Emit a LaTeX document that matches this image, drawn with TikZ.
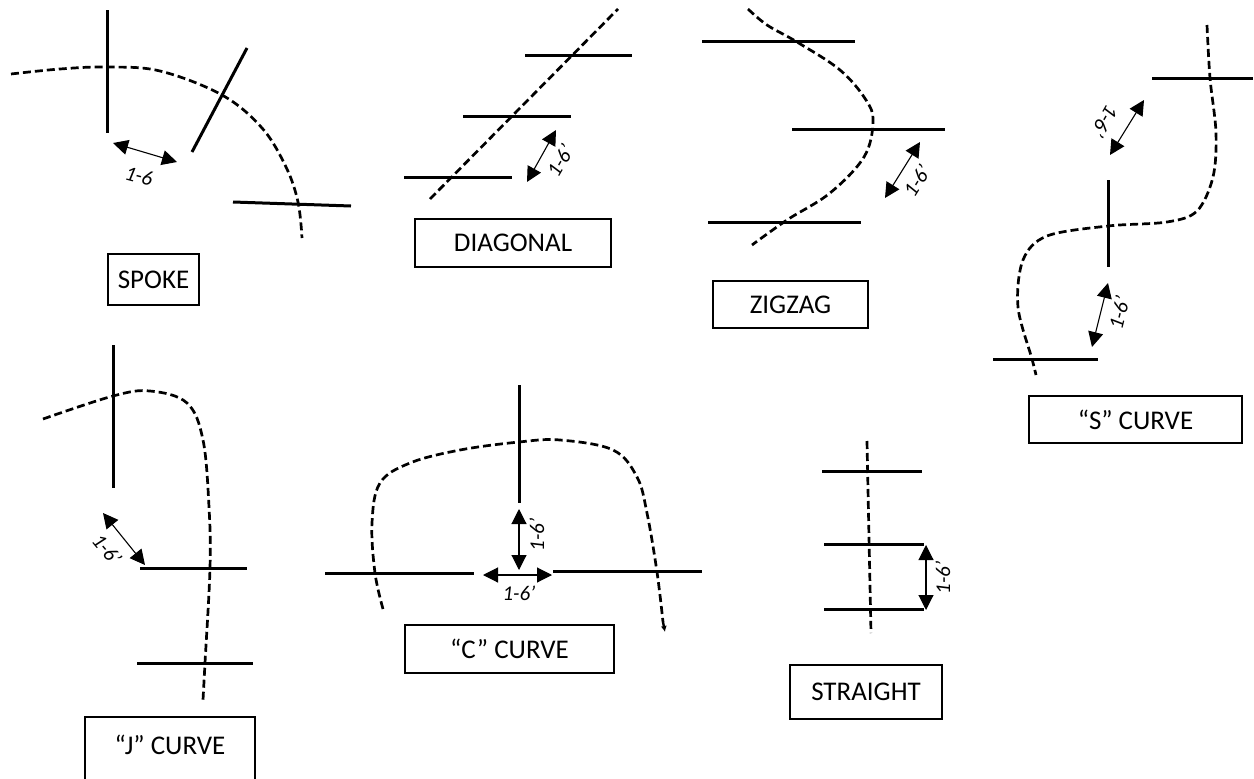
\documentclass[tikz,border=0pt]{standalone}
\usepackage{fontspec}
\setmainfont{Carlito}
\usetikzlibrary{arrows.meta}
\tikzset{
  barline/.style={line width=3pt},
  pathline/.style={line width=2.7pt, dash pattern=on 8pt off 4pt},
  dimarrow/.style={line width=1.1pt, {Triangle[length=15pt,width=15pt]}-{Triangle[length=15pt,width=15pt]}},
  dimlabel/.style={font=\fontsize{21}{24}\selectfont\itshape, inner sep=0pt},
  labelbox/.style={draw, line width=1.4pt, font=\fontsize{27}{30}\selectfont, inner sep=0pt},
  frame/.style={draw, line width=1.4pt, inner sep=0pt},
}
\begin{document}
\begin{tikzpicture}[x=1pt,y=-1pt]
\useasboundingbox (0,0) rectangle (1254,779);

% ---------------- SPOKE ----------------
\draw[pathline] plot[smooth, tension=0.6] coordinates {(11,74) (60,69) (107,67) (160,71) (222,95) (262,128) (286,167) (298,202) (302,238)};
\draw[barline] (107,10) -- (107,133);
\draw[barline] (247,48) -- (192,152);
\draw[barline] (233,202) -- (351,206);
\coordinate (sa1) at (113,143);
\coordinate (sa2) at (177,162);
\draw[dimarrow] (sa1) -- (sa2);
\node[dimlabel, rotate=-15] (slab) at (139,176) {1-6};
\node[labelbox, minimum width=91pt, minimum height=51pt] (spoke) at (153.5,279.5) {SPOKE};

% ---------------- DIAGONAL ----------------
\draw[pathline] (430,199) -- (618,9);
\draw[barline] (525,55) -- (632,55);
\draw[barline] (463,116) -- (571,116);
\draw[barline] (404,177) -- (512,177);
\coordinate (da1) at (556,130);
\coordinate (da2) at (527,182);
\draw[dimarrow] (da1) -- (da2);
\node[dimlabel, rotate=60] (dlab) at (560,161) {1-6’};
\node[labelbox, minimum width=196pt, minimum height=48pt] (diag) at (513,243) {DIAGONAL};

% ---------------- ZIGZAG ----------------
\draw[pathline] plot[smooth, tension=0.6] coordinates {(748,9) (767,25) (797,42) (840,70) (866,100) (873,122) (864,157) (830,193) (787,220) (752,245)};
\draw[barline] (702,41) -- (855,41);
\draw[barline] (792,129) -- (945,129);
\draw[barline] (708,222) -- (861,222);
\coordinate (za1) at (920,142);
\coordinate (za2) at (885,198);
\draw[dimarrow] (za1) -- (za2);
\node[dimlabel, rotate=58] (zlab) at (917,181) {1-6’};
\node[labelbox, minimum width=155pt, minimum height=47pt] (zig) at (790.5,304.5) {ZIGZAG};

% ---------------- S CURVE ----------------
\draw[pathline] plot[smooth, tension=0.55] coordinates {(1207,25) (1210,78) (1216,133) (1213,177) (1197,211) (1167,222) (1108,226) (1047,236) (1023,260) (1018,307) (1032,359) (1036,375)};
\draw[barline] (1152,78) -- (1253,78);
\draw[barline] (1108,180) -- (1108,267);
\draw[barline] (993,359) -- (1098,359);
\coordinate (sb1) at (1144,100);
\coordinate (sb2) at (1110,155);
\draw[dimarrow] (sb1) -- (sb2);
\node[dimlabel, rotate=-120] (sblab) at (1105,121) {1-6’};
\coordinate (sc1) at (1108,283);
\coordinate (sc2) at (1092,347);
\draw[dimarrow] (sc1) -- (sc2);
\node[dimlabel, rotate=76] (sclab) at (1119,313) {1-6’};
\node[labelbox, minimum width=213pt, minimum height=47pt] (scurve) at (1135.5,419.5) {“S” CURVE};

% ---------------- J CURVE ----------------
\draw[pathline] plot[smooth, tension=0.6] coordinates {(43,419) (113,396) (150,391) (187,403) (203,440) (209,507) (210,568) (205,663) (203,700)};
\draw[barline] (113,345) -- (113,488);
\draw[barline] (140,568) -- (247,568);
\draw[barline] (137,663) -- (253,663);
\coordinate (ja1) at (103,513);
\coordinate (ja2) at (145,565);
\draw[dimarrow] (ja1) -- (ja2);
\node[dimlabel, rotate=-50] (jlab) at (107,549) {1-6’};
\node[frame, minimum width=170pt, minimum height=90pt] (jframe) at (170,762) {};
\node[font=\fontsize{27}{30}\selectfont, inner sep=0pt] (jtext) at (170,745) {“J” CURVE};

% ---------------- C CURVE ----------------
\draw[pathline] plot[smooth, tension=0.6] coordinates {(383,609) (375,573) (372,523) (380,483) (410,463) (460,450) (519,442) (560,440) (613,450) (637,477) (647,513) (657,572) (663,622)};
\coordinate (cend0) at (663,622);
\coordinate (cend) at (665,632);
\draw[line width=2.4pt, -{Latex[length=6pt,width=6pt]}] (cend0) -- (cend);
\draw[barline] (519,385) -- (519,503);
\draw[barline] (325,573) -- (474,573);
\draw[barline] (553,571) -- (702,571);
\coordinate (cv1) at (519,509);
\coordinate (cv2) at (519,570);
\draw[dimarrow] (cv1) -- (cv2);
\node[dimlabel, rotate=90] (cvlab) at (537,535) {1-6’};
\coordinate (ch1) at (483,575);
\coordinate (ch2) at (552,575);
\draw[dimarrow] (ch1) -- (ch2);
\node[dimlabel] (chlab) at (519,593) {1-6’};
\node[labelbox, minimum width=209pt, minimum height=48pt] (ccurve) at (509.5,649) {“C” CURVE};

% ---------------- STRAIGHT ----------------
\draw[pathline] (867,441) -- (871,633);
\draw[barline] (822,471) -- (922,471);
\draw[barline] (824,544) -- (924,544);
\draw[barline] (824,609) -- (924,609);
\coordinate (st1) at (926,545);
\coordinate (st2) at (926,610);
\draw[dimarrow] (st1) -- (st2);
\node[dimlabel, rotate=90] (stlab) at (943,578) {1-6’};
\node[labelbox, minimum width=152pt, minimum height=54pt] (straight) at (866,692) {STRAIGHT};
\end{tikzpicture}
\end{document}
